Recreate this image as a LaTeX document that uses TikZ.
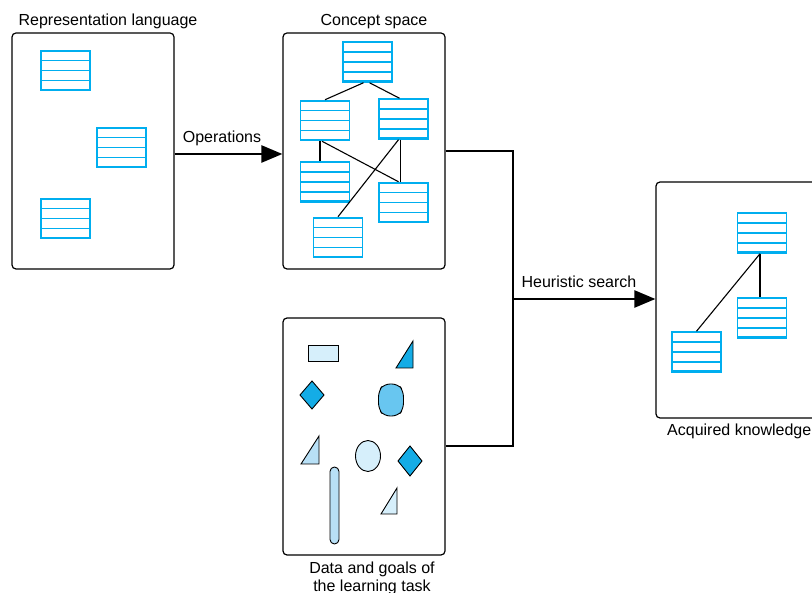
\documentclass[tikz,border=0pt]{standalone}
\usepackage{fontspec}
\setmainfont{Liberation Sans}
\usetikzlibrary{arrows.meta,calc}
\definecolor{tblue}{RGB}{0,174,239}
\definecolor{fdark}{RGB}{20,172,230}
\definecolor{fmid}{RGB}{104,198,240}
\definecolor{flight}{RGB}{184,224,246}
\definecolor{fpale}{RGB}{214,239,251}
\tikzset{
  tbl/.style={draw=tblue, line width=1.5pt, minimum width=49pt, minimum height=40pt, inner sep=0pt,
    path picture={
      \foreach \i in {1,2,3}
        \draw[tblue, line width=1.1pt] ($(path picture bounding box.north west)!\i/4!(path picture bounding box.south west)$) -- ($(path picture bounding box.north east)!\i/4!(path picture bounding box.south east)$);
      \draw[tblue, line width=3pt] (path picture bounding box.north west) -- (path picture bounding box.north east);
      \draw[tblue, line width=3pt] (path picture bounding box.south west) -- (path picture bounding box.south east);
    }},
  frame/.style={draw, line width=1.2pt, rounded corners=4pt, minimum width=162pt, minimum height=236pt, inner sep=0pt},
  lbl/.style={font=\fontsize{16}{18}\selectfont, inner sep=0pt},
  link/.style={line width=1.1pt},
  arr/.style={line width=2.5pt, -{Triangle[length=21pt,width=17pt]}},
  conn/.style={line width=2.5pt},
  shp/.style={draw, line width=0.9pt},
}
\begin{document}
\begin{tikzpicture}[x=1pt,y=-1pt]
\useasboundingbox (0,0) rectangle (812,593);
\clip (0,0) rectangle (812,593);
% frames
\node[frame] (L) at (93,151) {};
\node[frame] (C) at (364,151) {};
\node[frame, minimum height=237pt] (D) at (364,436.5) {};
\node[frame] (K) at (737,300) {};
% labels
\node[lbl] (lL) at (108,21.5) {Representation language};
\node[lbl] (lC) at (374,21.5) {Concept space};
\node[lbl] (lO) at (222,138.5) {Operations};
\node[lbl] (lH) at (579,281.5) {Heuristic search};
\node[lbl, align=center, font=\fontsize{16}{18}\selectfont] (lD) at (372,578) {Data and goals of\\the learning task};
\node[lbl, anchor=west] (lK) at (667,431) {Acquired knowledge};
% tables in representation language
\node[tbl] (T1) at (65.5,70.5) {};
\node[tbl] (T2) at (121.5,147.5) {};
\node[tbl] (T3) at (65.5,218.5) {};
% concept space
\node[tbl] (C1) at (367.5,62) {};
\node[tbl] (C2) at (325,120.5) {};
\node[tbl] (C3) at (403.5,119) {};
\node[tbl] (C4) at (325,182) {};
\node[tbl] (C5) at (403.5,202.5) {};
\node[tbl] (C6) at (338,237.5) {};
\draw[link] ([xshift=-4pt]C1.south) -- (C2.north);
\draw[link] ([xshift=2pt]C1.south) -- ([xshift=-4pt]C3.north);
\draw[link] ([xshift=-5pt]C2.south) -- ([xshift=-5pt]C4.north);
\draw[link] ([xshift=-3pt]C2.south) -- ([xshift=-5pt]C5.north);
\draw[link] ([xshift=-3pt]C3.south) -- ([xshift=-3pt]C5.north);
\draw[link] ([xshift=-5pt]C3.south) -- (C6.north);
% acquired knowledge
\node[tbl] (K1) at (762,233) {};
\node[tbl] (K2) at (762,318) {};
\node[tbl] (K3) at (696.5,352) {};
\draw[link] ([xshift=-2pt]K1.south) -- ([xshift=-2pt]K2.north);
\draw[link] ([xshift=-2pt]K1.south) -- (K3.north);
% data shapes
\draw[shp, fill=fpale] (308,345) rectangle (338,361);
\draw[shp, fill=fdark] (396,368) -- (413,368) -- (413,341) -- cycle;
\draw[shp, fill=fdark] (312,381) -- (324,395) -- (312,409) -- (300,395) -- cycle;
\draw[shp, fill=fmid, rounded corners=6pt] (384,384) -- (398,384) -- (403.5,391) -- (403.5,409) -- (398,416) -- (384,416) -- (378.5,409) -- (378.5,391) -- cycle;
\draw[shp, fill=flight] (301,464) -- (319,464) -- (319,436) -- cycle;
\draw[shp, fill=fpale] (368,456) ellipse [x radius=12.5, y radius=15.5];
\draw[shp, fill=fdark] (410,446) -- (422,461) -- (410,476) -- (398,461) -- cycle;
\draw[shp, fill=flight, rounded corners=4.5pt] (330,467) rectangle (339,544);
\draw[shp, fill=fpale] (381,514) -- (397,514) -- (397,488) -- cycle;
% connectors
\coordinate (J) at (513,299);
\draw[arr] ([yshift=-3pt]L.east) -- ([yshift=-3pt]C.west);
\draw[conn] (C.east) -- (C.east -| J) -- ([yshift=-9.5pt]D.east -| J) -- ([yshift=-9.5pt]D.east);
\draw[arr] (J) -- (K.west |- J);
\end{tikzpicture}
\end{document}
